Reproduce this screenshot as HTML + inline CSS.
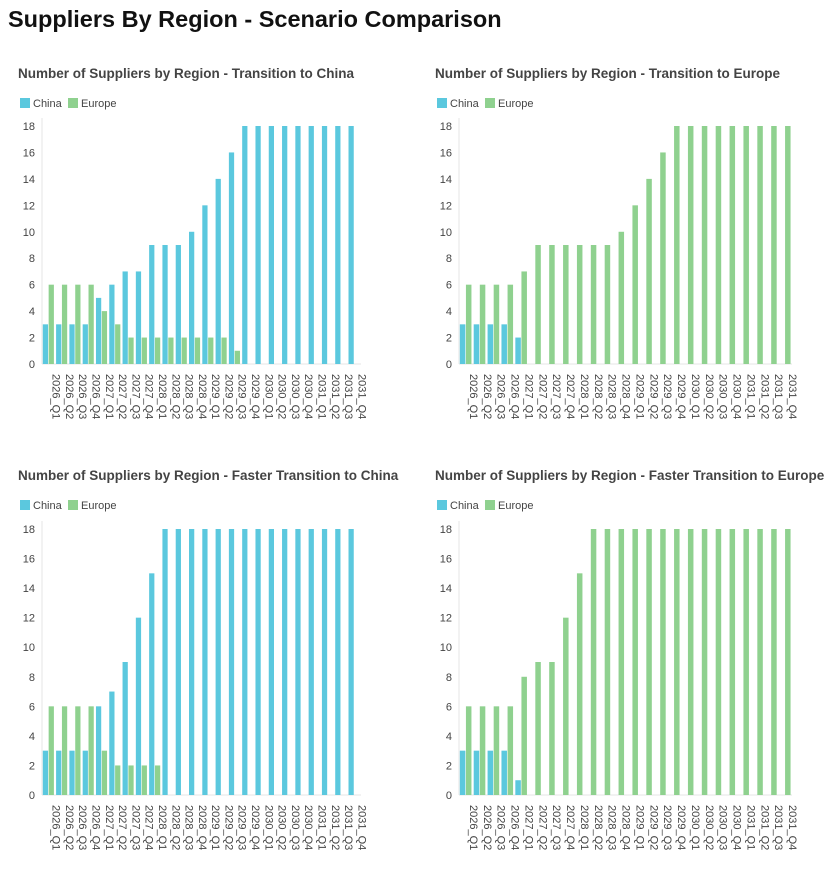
<!DOCTYPE html>
<html><head><meta charset="utf-8"><style>
body{margin:0;background:#fff;width:831px;height:867px;overflow:hidden;font-family:"Liberation Sans",Arial,sans-serif}
</style></head><body>
<svg id="svg" width="831" height="867" xmlns="http://www.w3.org/2000/svg">
<text x="8" y="27" font-size="23.5" font-weight="bold" fill="#111">Suppliers By Region - Scenario Comparison</text>
</svg>
<script>
const categories=["2026_Q1","2026_Q2","2026_Q3","2026_Q4","2027_Q1","2027_Q2","2027_Q3","2027_Q4","2028_Q1","2028_Q2","2028_Q3","2028_Q4","2029_Q1","2029_Q2","2029_Q3","2029_Q4","2030_Q1","2030_Q2","2030_Q3","2030_Q4","2031_Q1","2031_Q2","2031_Q3","2031_Q4"];
const yTicks=[0,2,4,6,8,10,12,14,16,18];
const chinaA=[3,3,3,3,5,6,7,7,9,9,9,10,12,14,16,18,18,18,18,18,18,18,18,18];
const europeA=[6,6,6,6,4,3,2,2,2,2,2,2,2,2,1,0,0,0,0,0,0,0,0,0];
const chinaB=[3,3,3,3,2,0,0,0,0,0,0,0,0,0,0,0,0,0,0,0,0,0,0,0];
const europeB=[6,6,6,6,7,9,9,9,9,9,9,10,12,14,16,18,18,18,18,18,18,18,18,18];
const chinaC=[3,3,3,3,6,7,9,12,15,18,18,18,18,18,18,18,18,18,18,18,18,18,18,18];
const europeC=[6,6,6,6,3,2,2,2,2,0,0,0,0,0,0,0,0,0,0,0,0,0,0,0];
const chinaD=[3,3,3,3,1,0,0,0,0,0,0,0,0,0,0,0,0,0,0,0,0,0,0,0];
const europeD=[6,6,6,6,8,9,9,12,15,18,18,18,18,18,18,18,18,18,18,18,18,18,18,18];
const titles=["Number of Suppliers by Region - Transition to China","Number of Suppliers by Region - Transition to Europe","Number of Suppliers by Region - Faster Transition to China","Number of Suppliers by Region - Faster Transition to Europe"];
const NS="http://www.w3.org/2000/svg";
const svg=document.getElementById('svg');
function mk(tag,attrs,parent){const e=document.createElementNS(NS,tag);for(const k in attrs)e.setAttribute(k,attrs[k]);(parent||svg).appendChild(e);return e;}
const C1="#5bc8de",C2="#8fd18f";
function chart(idx,ox,oy,x0,x1,y0,y18,china,europe){
  const g=mk('g',{});
  
  
  const t=mk('text',{x:ox,y:oy,'font-size':13.5,'font-weight':'bold',fill:'#444'},g);t.textContent=titles[idx];
  
  
  [["China",C1,0],["Europe",C2,48]].forEach(([n,c,dx])=>{
    const lg=mk('g',{},g);
    
    
    mk('rect',{x:ox+2+dx,y:oy+20,width:10,height:10,fill:c},lg);
    const lt=mk('text',{x:ox+15+dx,y:oy+29,'font-size':11,fill:'#444'},lg);lt.textContent=n;
  });
  const yS=v=>y0+(y18-y0)*v/18;
  yTicks.forEach(v=>{const tt=mk('text',{x:x0-7,y:yS(v)+4,'font-size':11,fill:'#444','text-anchor':'end'},g);tt.textContent=v;
    
    });
  mk('line',{x1:x0,y1:y18-8,x2:x0,y2:y0,stroke:'#e6e6e6'},g);
  mk('line',{x1:x0,y1:y0,x2:x1,y2:y0,stroke:'#e6e6e6'},g);
  const gw=(x1-x0)/categories.length, pad=gw*0.06, bw=(gw-2*pad)/2;
  categories.forEach((c,i)=>{
    const gx=x0+i*gw;
    [[china[i],C1,0],[europe[i],C2,1]].forEach(([v,col,k])=>{
      if(v<=0)return;
      const r=mk('rect',{x:gx+pad+k*bw,y:yS(v),width:bw-0.6,height:y0-yS(v),fill:col},g);
      
      
    });
    const cx=gx+gw/2+4, ty=y0+10;
    const lab=mk('text',{x:cx,y:ty,'font-size':11,fill:'#444',transform:`rotate(90 ${cx} ${ty})`},g);lab.textContent=c;
    
    
  });
}
chart(0,18,78,42,361,364,126,chinaA,europeA);
chart(1,435,78,459,792,364,126,chinaB,europeB);
chart(2,18,480,42,361,795,529,chinaC,europeC);
chart(3,435,480,459,792,795,529,chinaD,europeD);
</script>
</body></html>
